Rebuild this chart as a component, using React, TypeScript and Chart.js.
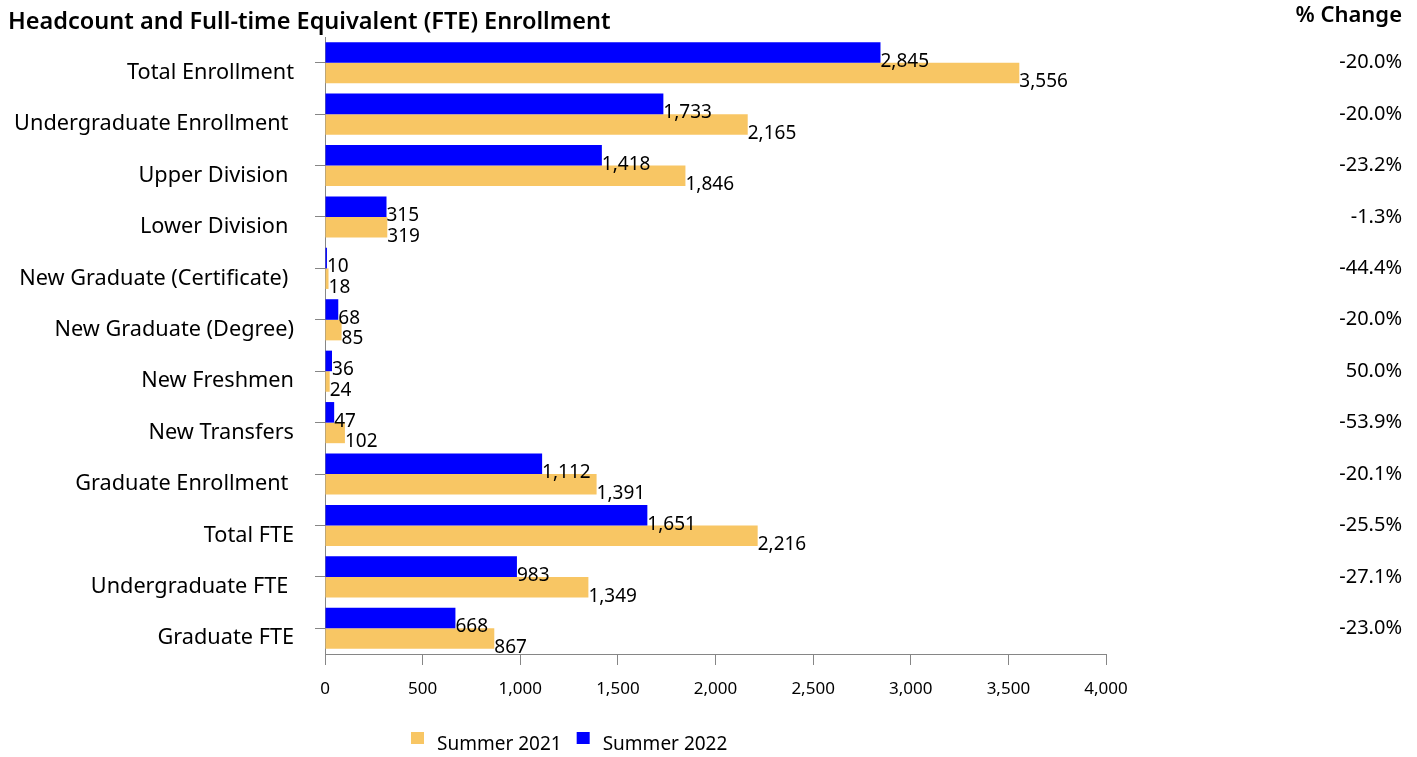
import React, { useEffect, useRef } from 'react';
import { Chart, registerables } from 'chart.js';

Chart.register(...registerables);

const categories = [
  'Total Enrollment',
  'Undergraduate Enrollment ',
  'Upper Division ',
  'Lower Division ',
  'New Graduate (Certificate) ',
  'New Graduate (Degree)',
  'New Freshmen',
  'New Transfers',
  'Graduate Enrollment ',
  'Total FTE',
  'Undergraduate FTE ',
  'Graduate FTE',
];
const summer2021 = [3556, 2165, 1846, 319, 18, 85, 24, 102, 1391, 2216, 1349, 867];
const summer2022 = [2845, 1733, 1418, 315, 10, 68, 36, 47, 1112, 1651, 983, 668];
const pctChange = ['-20.0%', '-20.0%', '-23.2%', '-1.3%', '-44.4%', '-20.0%', '50.0%', '-53.9%', '-20.1%', '-25.5%', '-27.1%', '-23.0%'];
const xMin = 0;
const xMax = 4000;
const xStep = 500;
const chartTitle = 'Headcount and Full-time Equivalent (FTE) Enrollment';
const pctTitle = '% Change';

const FONT = "'Noto Sans', sans-serif";
const AXIS_GREY = '#868686';

const overlayPlugin = {
  id: 'overlay',
  afterDatasetsDraw(chart: any) {
    const ctx = chart.ctx;
    ctx.save();
    ctx.fillStyle = '#000';
    ctx.font = `19px ${FONT}`;
    ctx.textAlign = 'left';
    ctx.textBaseline = 'middle';
    chart.data.datasets.forEach((ds: any, di: number) => {
      const meta = chart.getDatasetMeta(di);
      meta.data.forEach((el: any, i: number) => {
        const v = ds.data[i];
        ctx.fillText(v.toLocaleString('en-US'), el.x, el.y + 9);
      });
    });
    // % change column
    const yScale = chart.scales.y;
    ctx.font = `20px ${FONT}`;
    ctx.textAlign = 'right';
    pctChange.forEach((p, i) => {
      ctx.fillText(p, 1402, yScale.getPixelForValue(i));
    });
    // titles
    ctx.font = `600 23.5px ${FONT}`;
    ctx.textAlign = 'left';
    ctx.fillText(chartTitle, 8, 22);
    ctx.font = `600 22px ${FONT}`;
    ctx.textAlign = 'right';
    ctx.fillText(pctTitle, 1402, 16);
    // legend (dataset order reversed: Summer 2021 first)
    ctx.font = `19px ${FONT}`;
    ctx.textAlign = 'left';
    let x = 411;
    const items = chart.data.datasets.slice().reverse();
    items.forEach((ds: any) => {
      ctx.fillStyle = ds.backgroundColor;
      ctx.fillRect(x, 732, 13, 12);
      ctx.fillStyle = '#000';
      const tx = x + 26;
      ctx.fillText(ds.label, tx, 745);
      x = tx + ctx.measureText(ds.label).width + 15;
    });
    ctx.restore();
  },
};

export default function App() {
  const ref = useRef<HTMLCanvasElement | null>(null);
  useEffect(() => {
    if (!ref.current) return;
    const chart = new Chart(ref.current, {
      type: 'bar',
      data: {
        labels: categories,
        datasets: [
          {
            label: 'Summer 2022',
            data: summer2022,
            backgroundColor: '#0000FF',
            categoryPercentage: 0.8,
            barPercentage: 1,
          },
          {
            label: 'Summer 2021',
            data: summer2021,
            backgroundColor: '#F8C664',
            categoryPercentage: 0.8,
            barPercentage: 1,
          },
        ],
      },
      options: {
        indexAxis: 'y',
        animation: false,
        responsive: true,
        maintainAspectRatio: false,
        layout: { padding: { left: 0, right: 311, top: 37, bottom: 0 } },
        scales: {
          x: {
            min: xMin,
            max: xMax,
            ticks: {
              stepSize: xStep,
              color: '#000',
              font: { family: FONT, size: 17 },
              padding: 14,
              callback: (v: any) => Number(v).toLocaleString('en-US'),
            },
            grid: { drawOnChartArea: false, color: AXIS_GREY, tickLength: 11 },
            border: { color: AXIS_GREY },
            afterFit: (s: any) => { s.height = 103; },
          },
          y: {
            offset: true,
            ticks: {
              color: '#000',
              font: { family: FONT, size: 21.7 },
              padding: 21,
              labelOffset: 10,
              autoSkip: false,
            },
            grid: { drawOnChartArea: false, offset: false, color: AXIS_GREY, tickLength: 10 },
            border: { color: AXIS_GREY },
            afterFit: (s: any) => { s.width = 325; },
          },
        },
        plugins: {
          legend: { display: false },
          tooltip: { enabled: false },
        },
      },
      plugins: [overlayPlugin],
    });
    return () => chart.destroy();
  }, []);
  return (
    <div style={{ position: 'fixed', left: 0, top: 0, width: 1417, height: 757 }}>
      <canvas ref={ref} />
    </div>
  );
}
